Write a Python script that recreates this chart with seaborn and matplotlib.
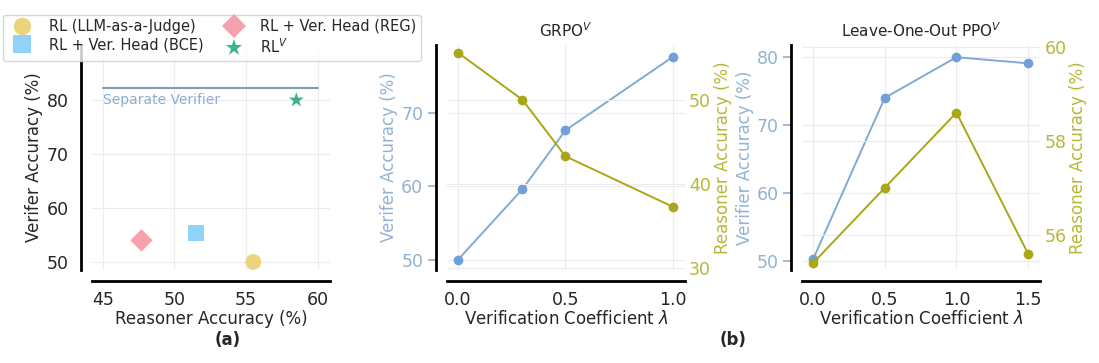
import numpy as np
import pandas as pd
import seaborn as sns
import matplotlib.pyplot as plt

# (a) reasoner vs verifier accuracy per method
methods = ['RL (LLM-as-a-Judge)', 'RL + Ver. Head (BCE)', 'RL + Ver. Head (REG)', 'RL$^V$']
reasoner_acc = [55.5, 51.5, 47.7, 58.5]
verifier_acc = [50.0, 55.3, 54.0, 80.0]
separate_verifier = 82.2
separate_range = [45, 60]

# (b) verification coefficient sweeps
grpo_lambda = [0.0, 0.3, 0.5, 1.0]
grpo_verifier = [50.0, 59.6, 67.6, 77.6]
grpo_reasoner = [55.6, 50.0, 43.3, 37.3]

loo_lambda = [0.0, 0.5, 1.0, 1.5]
loo_verifier = [50.2, 74.0, 80.0, 79.1]
loo_reasoner = [55.4, 57.0, 58.6, 55.6]

sns.set_theme(style='whitegrid', rc={'grid.color': '#ECECF0', 'grid.linewidth': 0.8})
plt.rcParams['font.family'] = ['DejaVu Sans']

method_colors = dict(zip(methods, ['#ECD47E', '#8FD3FA', '#F7A1AE', '#3DB389']))
method_markers = dict(zip(methods, ['o', 's', 'D', '*']))
blue_line = '#82A9D3'
blue_mark = '#6FA0DA'
blue_text = '#92B2D4'
olive_line = '#A9A617'
olive_text = '#B9B735'

TICK = 12.5
LABEL = 12

fig = plt.figure(figsize=(10.99, 3.63), dpi=100)

def style_spines(ax):
    sns.despine(ax=ax, offset=8)
    for side in ['left', 'bottom']:
        ax.spines[side].set_color('black')
        ax.spines[side].set_linewidth(2)

# ---- panel (a)
ax = fig.add_axes([0.0837, 0.256, 0.2166, 0.62])
df = pd.DataFrame({'method': methods, 'reasoner': reasoner_acc, 'verifier': verifier_acc})
sns.scatterplot(data=df, x='reasoner', y='verifier', hue='method', style='method',
                palette=method_colors, markers=method_markers, s=130, linewidth=0, ax=ax)
ax.plot(separate_range, [separate_verifier] * 2, color='#7A9EBB', lw=1.5)
ax.text(separate_range[0], separate_verifier - 0.8, 'Separate Verifier', color='#8BAED0',
        fontsize=10, va='top', ha='left')
ax.set_xlim(44.25, 60.85)
ax.set_ylim(48.5, 90.2)
ax.set_xticks([45, 50, 55, 60])
ax.set_yticks([50, 60, 70, 80])
ax.set_xlabel('Reasoner Accuracy (%)', fontsize=LABEL, labelpad=1)
ax.set_ylabel('Verifer Accuracy (%)', fontsize=LABEL, labelpad=2)
ax.tick_params(axis='x', labelsize=TICK, pad=1)
ax.tick_params(axis='y', labelsize=TICK, pad=3)
style_spines(ax)
handles, labels = ax.get_legend_handles_labels()
ax.get_legend().remove()
fig.legend(handles, labels, ncol=2, loc='upper left', bbox_to_anchor=(0.003, 0.96),
           fontsize=10.5, frameon=True, edgecolor='#CCCCCC', borderaxespad=0,
           handletextpad=0.8, columnspacing=1.1, labelspacing=0.25, markerscale=1.1,
           borderpad=0.3)


def sweep_panel(rect, lam, ver, rea, title, ylabel, xlim, ylim_l, ylim_r, xt, ytl, ytr):
    ax = fig.add_axes(rect)
    sns.lineplot(x=lam, y=ver, ax=ax, color=blue_line, marker='o', markersize=7,
                 markerfacecolor=blue_mark, markeredgewidth=0, lw=1.4)
    ax2 = ax.twinx()
    sns.lineplot(x=lam, y=rea, ax=ax2, color=olive_line, marker='o', markersize=7,
                 markeredgewidth=0, lw=1.4)
    ax.set_xlim(*xlim)
    ax.set_ylim(*ylim_l)
    ax2.set_ylim(*ylim_r)
    ax.set_xticks(xt)
    ax.set_xticklabels([f'{v:.1f}' for v in xt])
    ax.set_yticks(ytl)
    ax2.set_yticks(ytr)
    ax.set_title(title, fontsize=11)
    ax.set_xlabel('Verification Coefficient $\\lambda$', fontsize=LABEL, labelpad=1)
    ax.set_ylabel(ylabel, fontsize=LABEL, color=blue_text, labelpad=2)
    ax2.set_ylabel('Reasoner Accuracy (%)', fontsize=LABEL, color=olive_text, labelpad=2)
    ax.tick_params(axis='x', labelsize=TICK, pad=1)
    ax.tick_params(axis='y', labelsize=TICK, colors=blue_text, pad=3)
    ax2.tick_params(axis='y', labelsize=TICK, colors=olive_text, length=0, pad=3)
    style_spines(ax)
    for sp in ax2.spines.values():
        sp.set_visible(False)
    return ax


sweep_panel([0.4067, 0.256, 0.2166, 0.62], grpo_lambda, grpo_verifier, grpo_reasoner,
            'GRPO$^V$', 'Verifer Accuracy (%)', (-0.051, 1.056), (48.6, 79.2), (29.8, 56.5),
            [0.0, 0.5, 1.0], [50, 60, 70], [30, 40, 50])
sweep_panel([0.7298, 0.256, 0.2166, 0.62], loo_lambda, loo_verifier, loo_reasoner,
            'Leave-One-Out PPO$^V$', 'Verifier Accuracy (%)', (-0.077, 1.584), (48.6, 81.8),
            (55.25, 60.04), [0.0, 0.5, 1.0, 1.5], [50, 60, 70, 80], [56, 58, 60])

fig.text(0.2075, 0.063, '(a)', fontsize=12, fontweight='bold', ha='center', va='center')
fig.text(0.667, 0.063, '(b)', fontsize=12, fontweight='bold', ha='center', va='center')

fig.savefig('out.png', dpi=100)
